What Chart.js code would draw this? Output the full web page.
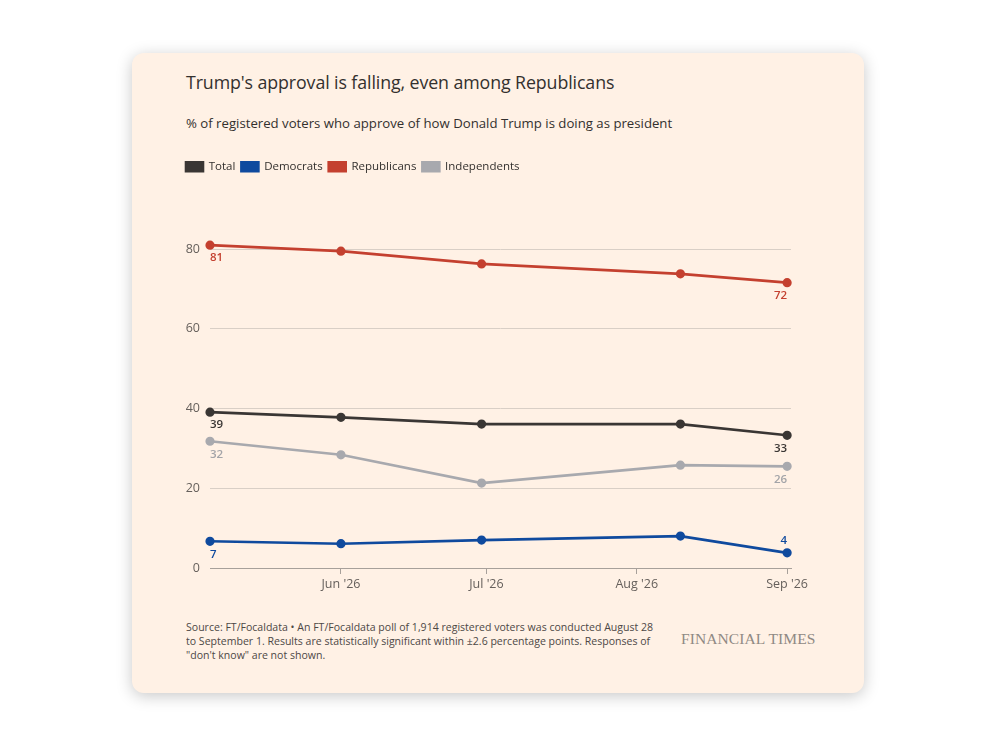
<!DOCTYPE html>
<html>
<head>
<meta charset="utf-8">
<script src="https://cdn.jsdelivr.net/npm/chart.js@4.4.1/dist/chart.umd.min.js"></script>
<style>
  html, body { margin: 0; padding: 0; background: #fff; width: 996px; height: 746px; overflow: hidden; }
  .card {
    position: absolute; left: 132px; top: 53px; width: 732px; height: 640px;
    background: #fff1e5; border-radius: 12px;
    box-shadow: 0 3px 16px rgba(0,0,0,0.22);
    font-family: "Open Sans", "Noto Sans", sans-serif; color: #33302e;
  }
  .title { position: absolute; left: 54px; top: 17px; font-size: 17.8px; letter-spacing: -0.1px; }
  .subtitle { position: absolute; left: 54px; top: 61px; font-size: 13.2px; }
  .wrap { position: absolute; left: 48px; top: 102px; width: 641px; height: 443px; }
  .note {
    position: absolute; left: 54px; top: 567px; white-space: nowrap;
    font-size: 11.6px; line-height: 14px; color: #4d4845;
    transform: scaleX(0.91); transform-origin: 0 0;
  }
  .brand {
    position: absolute; left: 549px; top: 577px;
    font-family: "Liberation Serif", serif; font-size: 15.5px; color: #8f8984; letter-spacing: 0.1px;
  }
</style>
</head>
<body>
<div class="card">
  <div class="title">Trump's approval is falling, even among Republicans</div>
  <div class="subtitle">% of registered voters who approve of how Donald Trump is doing as president</div>
  <div class="wrap"><canvas id="chart"></canvas></div>
  <div class="note">Source: FT/Focaldata • An FT/Focaldata poll of 1,914 registered voters was conducted August 28<br>to September 1. Results are statistically significant within ±2.6 percentage points. Responses of<br>"don't know" are not shown.</div>
  <div class="brand">FINANCIAL TIMES</div>
</div>
<script>
// Poll dates and results (% approve)
var pollDates = ['2026-05-05', '2026-06-01', '2026-06-30', '2026-08-10', '2026-09-01'];
var total = [39.1, 37.8, 36.1, 36.1, 33.3];
var democrats = [6.7, 6.1, 7.0, 8.0, 3.8];
var republicans = [81.0, 79.5, 76.3, 73.8, 71.6];
var independents = [31.8, 28.4, 21.3, 25.8, 25.5];

// x-axis month ticks
var monthDates = ['2026-06-01', '2026-07-01', '2026-08-01', '2026-09-01'];
var monthLabels = ["Jun '26", "Jul '26", "Aug '26", "Sep '26"];
var yTicks = [0, 20, 40, 60, 80];

function dayOfYear(d) {
	return (Date.parse(d) - Date.parse('2026-01-01')) / 86400000 + 1;
}
var days = pollDates.map(dayOfYear);
var monthDays = monthDates.map(dayOfYear);

function toPoints(values) {
	return values.map(function(v, i) {
		return { x: days[i], y: v };
	});
}

function series(label, values, color, labelColor, lastAbove) {
	return {
		label: label,
		data: toPoints(values),
		borderColor: color,
		backgroundColor: color,
		pointBackgroundColor: color,
		pointBorderColor: color,
		borderWidth: 2.6,
		pointRadius: 3.3,
		pointHoverRadius: 3.3,
		tension: 0,
		clip: false,
		labelColor: labelColor,
		lastAbove: lastAbove
	};
}

// Draws the first and last value next to each line
var endLabels = {
	id: 'endLabels',
	afterDatasetsDraw: function(chart) {
		var ctx = chart.ctx;
		ctx.save();
		ctx.font = '600 11.5px "Open Sans", sans-serif';
		ctx.textBaseline = 'middle';
		chart.data.datasets.forEach(function(ds, i) {
			var meta = chart.getDatasetMeta(i);
			var first = meta.data[0];
			var last = meta.data[meta.data.length - 1];
			ctx.fillStyle = ds.labelColor;
			ctx.textAlign = 'left';
			ctx.fillText(Math.round(ds.data[0].y), first.x, first.y + 13);
			ctx.textAlign = 'right';
			var dy = ds.lastAbove ? -12 : 13;
			ctx.fillText(Math.round(ds.data[ds.data.length - 1].y), last.x, last.y + dy);
		});
		ctx.restore();
	}
};

// Extra room under the legend
var legendGap = {
	id: 'legendGap',
	beforeInit: function(chart) {
		var fit = chart.legend.fit;
		chart.legend.fit = function() {
			fit.bind(chart.legend)();
			this.height += 26.8;
		};
	}
};

var ctx = document.getElementById('chart').getContext('2d');
var chart = new Chart(ctx, {
	type: 'line',
	data: {
		datasets: [
			series('Total', total, '#3a3634', '#3a3634', false),
			series('Democrats', democrats, '#0f4a9e', '#0f4a9e', true),
			series('Republicans', republicans, '#c4402f', '#c4402f', false),
			series('Independents', independents, '#a8a9ae', '#a3a4a8', false)
		]
	},
	plugins: [legendGap, endLabels],
	options: {
		responsive: true,
		maintainAspectRatio: false,
		animation: false,
		layout: { padding: { left: 0, right: 30, top: 0, bottom: 0 } },
		plugins: {
			legend: {
				position: 'top',
				align: 'start',
				labels: {
					boxWidth: 17,
					boxHeight: 9,
					padding: 6,
					color: '#33302e',
					font: { family: '"Open Sans", sans-serif', size: 11.5 }
				}
			},
			tooltip: { enabled: false }
		},
		scales: {
			x: {
				type: 'linear',
				min: days[0],
				max: monthDays[monthDays.length - 1] + 0.8,
				afterBuildTicks: function(scale) {
					scale.ticks = monthDays.map(function(v) { return { value: v }; });
				},
				afterFit: function(scale) { scale.height = 30; },
				grid: {
					display: true,
					drawOnChartArea: false,
					drawTicks: true,
					tickLength: 6,
					color: '#a7a09a'
				},
				border: { display: true, color: '#a7a09a', width: 1 },
				ticks: {
					padding: 3,
					maxRotation: 0,
					color: '#66605c',
					font: { family: '"Open Sans", sans-serif', size: 12.5 },
					callback: function(value, index) { return monthLabels[index]; }
				}
			},
			y: {
				min: 0,
				max: 90,
				afterBuildTicks: function(scale) {
					scale.ticks = yTicks.map(function(v) { return { value: v }; });
				},
				afterFit: function(scale) { scale.width = 30; },
				grid: {
					drawTicks: false,
					color: function(c) { return c.tick && c.tick.value === 0 ? 'rgba(0,0,0,0)' : '#d9cfc6'; }
				},
				border: { display: false },
				ticks: {
					padding: 10,
					color: '#66605c',
					font: { family: '"Open Sans", sans-serif', size: 12.5 }
				}
			}
		}
	}
});
</script>
</body>
</html>
